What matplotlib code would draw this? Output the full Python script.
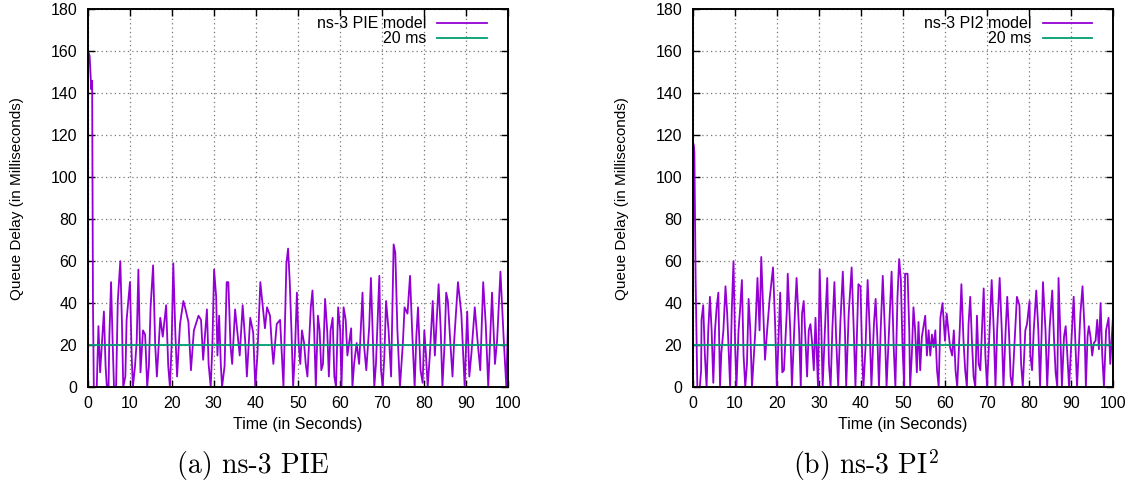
import numpy as np
import matplotlib
matplotlib.use("Agg")
from matplotlib import pyplot as plt

# queue delay traces (time in s, delay in ms)
pie_t = [0.0, 0.15, 0.5, 0.7, 0.9, 1.1, 1.3, 1.5, 2.2, 2.6, 3.0, 3.4, 3.9, 4.3, 4.6, 5.0, 5.2, 5.6, 6.0, 6.3,
         6.8, 7.2, 7.8, 8.2, 8.5, 9.0, 9.3, 10.1, 10.5, 10.8, 11.3, 11.7, 12.1, 12.6, 13.2, 13.7, 14.2, 14.6, 15.0, 15.6,
         16.1, 16.5, 17.3, 17.9, 18.7, 19.2, 19.6, 20.0, 20.4, 20.9, 21.3, 22.0, 22.8, 23.2, 24.0, 24.6, 25.3, 26.4, 27.0, 27.5,
         28.4, 28.8, 29.3, 29.7, 30.1, 30.6, 30.9, 31.3, 31.7, 32.0, 32.6, 33.1, 33.5, 34.0, 34.4, 35.1, 35.5, 36.2, 36.9, 37.5,
         37.9, 38.7, 39.4, 39.9, 40.4, 41.1, 41.7, 42.2, 42.7, 43.4, 43.8, 44.2, 45.0, 45.8, 46.2, 46.6, 47.3, 47.7, 48.1, 48.5,
         48.9, 49.3, 49.8, 50.2, 50.6, 51.0, 51.5, 51.9, 52.3, 53.1, 53.5, 53.9, 54.3, 54.8, 55.2, 55.6, 56.0, 56.5, 57.0, 57.4,
         57.8, 58.3, 58.7, 59.1, 59.6, 60.1, 60.4, 60.9, 61.4, 61.8, 62.7, 63.0, 63.4, 64.0, 64.6, 65.4, 65.8, 66.3, 67.0, 67.4,
         67.8, 68.2, 68.6, 69.4, 69.8, 70.2, 70.6, 71.0, 71.6, 72.2, 72.8, 73.2, 73.7, 74.3, 75.0, 75.4, 76.1, 76.7, 77.2, 77.8,
         78.2, 78.6, 79.2, 79.7, 80.1, 80.5, 80.9, 81.4, 82.1, 82.6, 83.5, 84.0, 84.4, 84.9, 85.3, 85.7, 86.2, 86.8, 87.2, 88.1,
         88.9, 89.7, 90.3, 90.8, 91.3, 92.1, 92.8, 93.4, 94.1, 94.7, 95.3, 95.7, 96.2, 96.9, 97.4, 98.2, 99.0, 99.6, 100.0]
pie_d = [0, 160, 158, 150, 142, 146, 40, 0, 0, 29, 7, 20, 36, 10, 0, 0, 24, 50, 20, 0,
         0, 41, 60, 30, 0, 5, 32, 50, 15, 0, 10, 22, 56, 7, 27, 25, 0, 10, 38, 58,
         20, 5, 33, 24, 39, 10, 0, 20, 59, 25, 5, 30, 41, 38, 31, 8, 27, 34, 32, 13,
         37, 11, 0, 20, 56, 43, 15, 34, 11, 0, 10, 50, 50, 20, 11, 37, 29, 15, 39, 22,
         5, 33, 26, 0, 15, 50, 38, 28, 38, 34, 21, 11, 30, 32, 16, 0, 59, 66, 50, 27,
         0, 15, 45, 21, 11, 27, 21, 11, 5, 38, 46, 27, 0, 34, 27, 8, 11, 42, 27, 5,
         27, 33, 5, 0, 38, 27, 0, 38, 32, 15, 28, 0, 11, 21, 11, 45, 19, 8, 29, 52,
         27, 0, 11, 53, 8, 0, 15, 41, 27, 5, 68, 64, 27, 0, 21, 38, 35, 53, 27, 0,
         24, 38, 8, 2, 27, 15, 0, 15, 41, 15, 49, 27, 0, 20, 45, 41, 24, 5, 22, 50,
         35, 0, 36, 5, 16, 38, 21, 8, 50, 30, 0, 20, 45, 11, 22, 55, 22, 0, 32]

pi2_t = [0.0, 0.15, 0.4, 0.7, 1.1, 1.7, 2.0, 2.1, 2.5, 2.9, 3.3, 3.7, 4.1, 4.5, 4.9, 5.3, 5.7, 6.1, 6.5, 6.8,
         7.3, 7.8, 8.2, 8.9, 9.3, 9.7, 10.1, 10.4, 10.9, 11.3, 11.7, 12.1, 12.5, 12.9, 13.3, 13.7, 14.1, 14.9, 15.4, 15.9,
         16.3, 16.8, 17.2, 17.7, 18.3, 19.1, 19.6, 20.0, 20.8, 21.3, 21.7, 22.4, 22.6, 23.2, 23.6, 24.3, 24.7, 25.3, 25.7, 26.0,
         26.4, 26.8, 27.2, 27.6, 28.0, 28.4, 28.8, 29.2, 29.8, 30.2, 30.6, 30.9, 31.6, 32.0, 32.4, 32.8, 33.2, 33.7, 34.1, 34.6,
         35.1, 35.7, 36.2, 36.5, 37.1, 37.8, 38.3, 38.7, 39.4, 39.9, 40.3, 40.6, 41.1, 41.6, 42.1, 42.5, 43.1, 43.5, 43.9, 44.3,
         44.7, 45.2, 45.7, 46.1, 46.7, 47.3, 47.8, 48.2, 48.7, 49.1, 49.5, 49.9, 50.3, 50.5, 51.1, 51.5, 51.7, 52.1, 52.5, 52.9,
         53.3, 53.7, 54.1, 54.5, 55.3, 55.7, 56.1, 56.5, 56.9, 57.3, 57.7, 58.1, 58.5, 58.9, 59.4, 60.0, 60.4, 60.8, 61.2, 61.7,
         62.1, 62.5, 62.9, 63.5, 63.9, 64.4, 64.8, 65.2, 65.6, 66.0, 66.4, 66.8, 67.2, 67.6, 68.0, 68.4, 68.8, 69.2, 69.6, 70.0,
         70.6, 71.1, 71.6, 72.0, 72.4, 73.0, 73.5, 73.9, 74.4, 74.8, 75.2, 75.6, 76.0, 76.7, 77.1, 77.7, 78.1, 78.5, 79.1, 79.5,
         80.1, 80.3, 80.7, 81.1, 81.7, 82.2, 82.6, 83.0, 83.3, 83.9, 84.3, 84.9, 85.5, 85.9, 86.3, 86.7, 87.0, 87.4, 87.8, 88.3,
         88.7, 89.1, 89.5, 90.2, 90.6, 91.0, 91.4, 92.2, 92.7, 93.2, 93.5, 93.9, 94.2, 94.6, 95.0, 95.4, 95.8, 96.2, 96.6, 97.0,
         97.4, 97.8, 98.3, 98.9, 99.3, 99.9]
pi2_d = [0, 116, 112, 50, 0, 0, 8, 32, 39, 15, 0, 27, 43, 27, 2, 27, 38, 45, 0, 16,
         27, 48, 35, 0, 37, 60, 19, 0, 27, 38, 51, 15, 0, 11, 42, 27, 0, 27, 52, 27,
         62, 35, 13, 27, 42, 57, 30, 0, 45, 7, 8, 37, 54, 27, 0, 35, 52, 27, 0, 35,
         41, 23, 5, 27, 30, 21, 8, 33, 0, 56, 27, 0, 35, 52, 11, 0, 27, 50, 24, 0,
         30, 55, 27, 0, 35, 57, 27, 0, 49, 48, 15, 0, 19, 51, 27, 0, 30, 42, 24, 0,
         27, 53, 27, 0, 27, 55, 19, 0, 43, 61, 51, 19, 0, 54, 54, 27, 0, 15, 38, 27,
         7, 31, 8, 24, 34, 15, 27, 15, 25, 19, 27, 8, 0, 33, 40, 22, 35, 27, 19, 15,
         27, 8, 0, 27, 49, 22, 8, 0, 30, 43, 22, 5, 0, 34, 11, 8, 27, 47, 15, 0,
         27, 51, 27, 0, 27, 52, 27, 0, 26, 43, 27, 5, 0, 27, 43, 39, 11, 0, 27, 30,
         41, 15, 8, 27, 46, 27, 0, 27, 50, 27, 0, 29, 46, 24, 7, 0, 52, 27, 0, 24,
         29, 15, 0, 27, 43, 22, 0, 35, 48, 27, 0, 24, 29, 24, 15, 21, 22, 32, 18, 40,
         15, 0, 27, 33, 11, 32]

target = 20
labels = ["ns-3 PIE model", "ns-3 PI2 model"]
captions = ["(a) ns-3 PIE", "(b) ns-3 PI$^2$"]

plt.rcParams['font.family'] = ['Liberation Sans', 'DejaVu Sans']
plt.rcParams['mathtext.fontset'] = 'cm'

fig = plt.figure(figsize=(11.41, 4.86), dpi=100)
lefts = [87.5 / 1141, 692.7 / 1141]
cap_x = [253 / 1141, 866 / 1141]
series = [(pie_t, pie_d), (pi2_t, pi2_d)]

for i in range(2):
    ax = fig.add_axes([lefts[i], 99 / 486, 420.5 / 1141, 377.5 / 486])
    t, d = series[i]
    ax.plot(t, d, color='#9400D3', lw=1.3, label=labels[i])
    ax.axhline(target, color='#009E73', lw=1.3, label='20 ms')
    ax.set_xlim(0, 100)
    ax.set_ylim(0, 180)
    ax.set_xticks(np.arange(0, 101, 10))
    ax.set_yticks(np.arange(0, 181, 20))
    ax.grid(True, linestyle=(0, (1, 2.5)), color='#777777', lw=0.9)
    ax.tick_params(direction='in', top=True, right=True, length=5, width=1,
                   labelsize=11.5, colors='black')
    ax.tick_params(axis='y', pad=7.5)
    ax.tick_params(axis='x', pad=6.5)
    for s in ax.spines.values():
        s.set_linewidth(1.4)
    ax.set_xlabel("Time (in Seconds)", fontsize=11.5, labelpad=4)
    ax.set_ylabel("Queue Delay (in Milliseconds)", fontsize=11, labelpad=19)
    ax.legend(loc='upper right', bbox_to_anchor=(0.950, 0.982), frameon=False,
              markerfirst=False, fontsize=11.5, handlelength=3.1, handletextpad=0.7,
              labelspacing=0.0, borderaxespad=0, borderpad=0)
    fig.text(cap_x[i], 21 / 486, captions[i], family='cmr10', fontsize=20,
             ha='center', va='center')

fig.savefig("out.png", dpi=100)
